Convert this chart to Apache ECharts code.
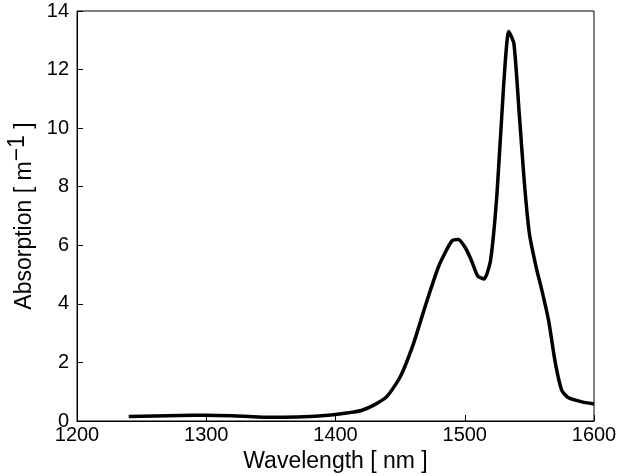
<!DOCTYPE html>
<html>
<head>
<meta charset="utf-8">
<script src="https://cdn.jsdelivr.net/npm/echarts@6/dist/echarts.min.js"></script>
<style>
  html, body { margin: 0; padding: 0; background: #fff; }
  #chart { width: 630px; height: 476px; }
</style>
</head>
<body>
<div id="chart"></div>
<script>
const wavelengths = [1240, 1260, 1280, 1300, 1320, 1340, 1360, 1380, 1400, 1410, 1420, 1430, 1440, 1450, 1460, 1470, 1480, 1490, 1495, 1500, 1505, 1510, 1515, 1520, 1525, 1530, 1534, 1538, 1542, 1546, 1550, 1555, 1560, 1565, 1570, 1575, 1580, 1590, 1600];
const absorption = [0.15, 0.17, 0.19, 0.2, 0.18, 0.14, 0.13, 0.15, 0.22, 0.28, 0.36, 0.55, 0.85, 1.5, 2.6, 4.0, 5.3, 6.15, 6.2, 5.95, 5.5, 4.95, 4.85, 5.5, 7.8, 11.4, 13.3, 12.9, 10.6, 8.2, 6.4, 5.3, 4.4, 3.4, 2.0, 1.05, 0.8, 0.66, 0.58];

const chart = echarts.init(document.getElementById("chart"));
const font = "Liberation Sans";
const axisCommon = {
  axisLine: { onZero: false, lineStyle: { color: "#000", width: 1 } },
  axisTick: { inside: true, length: 6, lineStyle: { color: "#000" } },
  axisLabel: { color: "#000", fontSize: 20, fontFamily: font, formatter: v => String(v) },
  splitLine: { show: false },
  nameLocation: "middle",
  nameTextStyle: { color: "#000", fontSize: 23, fontFamily: font }
};
chart.setOption({
  animation: false,
  grid: { left: 77, right: 36, top: 11, bottom: 55, show: true, borderColor: "#000", borderWidth: 1, outerBoundsMode: "none", containLabel: false },
  xAxis: Object.assign({}, axisCommon, {
    type: "value", min: 1200, max: 1600, interval: 100,
    name: "Wavelength [ nm ]", nameGap: 28,
    axisLabel: Object.assign({}, axisCommon.axisLabel, { margin: 4 })
  }),
  yAxis: Object.assign({}, axisCommon, {
    type: "value", min: 0, max: 14, interval: 2,
    name: "Absorption [ m{sup|−1} ]", nameGap: 30,
    nameTextStyle: Object.assign({}, axisCommon.nameTextStyle, {
      rich: { sup: { fontSize: 23, fontFamily: font, color: "#000", verticalAlign: "top", padding: [0, 0, 14, 0] } }
    })
  }),
  series: [{
    type: "line",
    data: wavelengths.map((w, i) => [w, absorption[i]]),
    smooth: 0.2,
    symbol: "none",
    lineStyle: { color: "#000", width: 3.5 }
  }]
});
</script>
</body>
</html>
